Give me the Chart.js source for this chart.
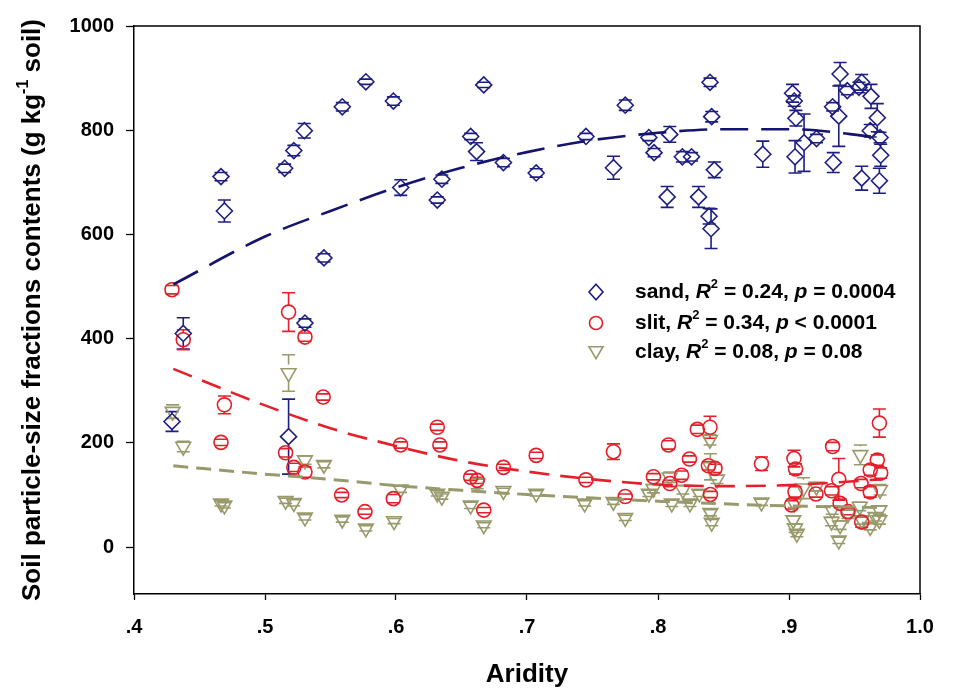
<!DOCTYPE html>
<html>
<head>
<meta charset="utf-8">
<script src="https://cdn.jsdelivr.net/npm/chart.js@4.4.1/dist/chart.umd.min.js"></script>
<style>
  html, body { margin: 0; padding: 0; background: #fff; }
  #wrap { width: 963px; height: 695px; }
</style>
</head>
<body>
<div id="wrap"><canvas id="grafico" width="963" height="695"></canvas></div>
<script>
/* ================= DADOS ================= */
const sandX = [0.429, 0.4376, 0.4664, 0.469, 0.515, 0.518, 0.522, 0.5305, 0.530, 0.545, 0.559, 0.577, 0.598, 0.6036, 0.6315, 0.635, 0.657, 0.6615, 0.667, 0.682, 0.707, 0.745, 0.766, 0.775, 0.793, 0.797, 0.809, 0.807, 0.8186, 0.8256, 0.831, 0.8397, 0.841, 0.843, 0.839, 0.8405, 0.880, 0.9027, 0.904, 0.9053, 0.9046, 0.9115, 0.921, 0.9333, 0.9338, 0.938, 0.939, 0.9445, 0.9534, 0.9555, 0.9626, 0.9555, 0.962, 0.9674, 0.9695, 0.970, 0.969];
const sandY = [241, 410, 711, 645, 727, 212, 761, 430, 799, 555, 845, 893, 856, 690, 666, 706, 788, 759, 887, 738, 718, 788, 728, 848, 786, 757, 792, 672, 749, 749, 672, 892, 826, 724, 635, 611, 754, 871, 856, 823, 749, 776, 784, 845, 738, 827, 908, 876, 882, 892, 865, 708, 799, 824, 786, 752, 703];
const sandErr = [19, 30, 8, 21, 8, 72, 10, 8, 14, 8, 8, 5, 8, 15, 6, 8, 6, 17, 5, 8, 8, 6, 22, 10, 6, 8, 15, 20, 10, 8, 20, 8, 10, 15, 15, 38, 25, 17, 10, 15, 31, 55, 8, 8, 19, 58, 22, 8, 10, 15, 23, 23, 12, 27, 10, 21, 24];

const slitX = [0.429, 0.4376, 0.4664, 0.469, 0.5157, 0.518, 0.522, 0.5305, 0.5305, 0.5444, 0.5585, 0.5763, 0.598, 0.6035, 0.6315, 0.6335, 0.657, 0.662, 0.667, 0.682, 0.707, 0.745, 0.766, 0.775, 0.7965, 0.808, 0.809, 0.818, 0.824, 0.83, 0.8397, 0.8385, 0.8435, 0.840, 0.879, 0.9038, 0.905, 0.9046, 0.902, 0.9206, 0.9333, 0.938, 0.9325, 0.939, 0.945, 0.9555, 0.955, 0.962, 0.9674, 0.970, 0.969, 0.962];
const slitY = [494, 398, 201, 273, 181, 451, 153, 403, 144, 288, 100, 68, 93, 196, 230, 196, 134, 128, 71, 153, 176, 129, 183, 97, 135, 196, 122, 138, 169, 226, 230, 156, 151, 101, 160, 170, 150, 106, 81, 102, 193, 130, 108, 84, 68, 48, 122, 148, 167, 142, 238, 106];
const slitErr = [8, 19, 6, 17, 8, 37, 8, 8, 10, 6, 5, 5, 8, 6, 6, 6, 6, 6, 5, 6, 6, 5, 15, 5, 6, 8, 6, 8, 6, 8, 21, 8, 8, 6, 13, 16, 10, 10, 8, 6, 8, 40, 8, 8, 6, 10, 8, 10, 10, 10, 27, 10];

const clayX = [0.4295, 0.4376, 0.4664, 0.469, 0.518, 0.5157, 0.522, 0.5305, 0.5305, 0.545, 0.559, 0.577, 0.5985, 0.6035, 0.6315, 0.635, 0.657, 0.662, 0.667, 0.682, 0.707, 0.744, 0.766, 0.775, 0.793, 0.7965, 0.809, 0.8105, 0.819, 0.8244, 0.8315, 0.8397, 0.840, 0.840, 0.841, 0.845, 0.879, 0.904, 0.9033, 0.9046, 0.906, 0.911, 0.921, 0.933, 0.9325, 0.939, 0.938, 0.945, 0.954, 0.9545, 0.9555, 0.962, 0.966, 0.9695, 0.969, 0.969];
const clayY = [260, 193, 84, 80, 334, 89, 85, 167, 57, 158, 53, 36, 50, 111, 103, 97, 80, 122, 42, 108, 103, 84, 87, 56, 103, 112, 134, 84, 110, 84, 103, 206, 154, 66, 47, 130, 86, 84, 52, 36, 26, 113, 116, 71, 49, 42, 13, 63, 78, 177, 52, 39, 58, 110, 71, 52];
const clayErr = [13, 10, 5, 5, 35, 5, 6, 8, 5, 6, 5, 5, 5, 6, 5, 5, 6, 10, 5, 5, 5, 5, 5, 5, 6, 8, 10, 6, 8, 6, 6, 10, 25, 6, 6, 8, 6, 8, 8, 8, 6, 20, 8, 8, 8, 8, 6, 8, 8, 19, 8, 6, 8, 10, 8, 8];

// curvas ajustadas
const fitX = [0.43, 0.5, 0.55, 0.6, 0.65, 0.7, 0.75, 0.8, 0.85, 0.9, 0.97];
const sandFit = [504, 596, 645, 690, 728, 758, 781, 795, 802, 802, 786];
const slitFit = [342, 272, 228, 194, 165, 145, 130, 120, 117, 119, 130];
const clayFit = [156, 140, 130, 118, 109, 101, 94, 88, 83, 79, 76];

const xTicks = [0.4, 0.5, 0.6, 0.7, 0.8, 0.9, 1.0];
const xTickLabels = [".4", ".5", ".6", ".7", ".8", ".9", "1.0"];
const yTicks = [0, 200, 400, 600, 800, 1000];

const legendNames = ["sand", "slit", "clay"];
const legendR2 = ["0.24", "0.34", "0.08"];
const legendP = ["= 0.0004", "< 0.0001", "= 0.08"];

/* ================= ESTILO ================= */
const FONT = '"Liberation Sans", Arial, sans-serif';
const corSand = "#1e1e82";
const corSandFit = "#14146e";
const corSlit = "#e3202b";
const corClay = "#999a6c";

function pts(xs, ys) {
  return xs.map((x, i) => ({ x, y: ys[i] }));
}

function desenhaMarcador(ctx, tipo, x, y, r) {
  ctx.beginPath();
  if (tipo === "diamond") {
    ctx.moveTo(x, y - r * 1.1);
    ctx.lineTo(x + r, y);
    ctx.lineTo(x, y + r * 1.1);
    ctx.lineTo(x - r, y);
    ctx.closePath();
  } else if (tipo === "circle") {
    ctx.arc(x, y, r, 0, Math.PI * 2);
  } else {
    ctx.moveTo(x - r, y - r * 0.75);
    ctx.lineTo(x + r, y - r * 0.75);
    ctx.lineTo(x, y + r * 0.95);
    ctx.closePath();
  }
  ctx.stroke();
}

/* ================= PLUGINS ================= */
const errorBars = {
  id: "errorBars",
  beforeDatasetsDraw(chart) {
    const { ctx, scales: { x: xs, y: ys } } = chart;
    ctx.save();
    ctx.lineWidth = 1.6;
    chart.data.datasets.forEach(ds => {
      if (!ds.errors) return;
      ctx.strokeStyle = ds.borderColor;
      const r = ds.markerR;
      ds.data.forEach((p, j) => {
        const e = ds.errors[j];
        const px = xs.getPixelForValue(p.x);
        const py = ys.getPixelForValue(p.y);
        const t = ys.getPixelForValue(p.y + e);
        const b = ys.getPixelForValue(p.y - e);
        ctx.beginPath();
        if (py - t > r) { ctx.moveTo(px, t); ctx.lineTo(px, py - r); }
        if (b - py > r) { ctx.moveTo(px, py + r); ctx.lineTo(px, b); }
        ctx.moveTo(px - 6.5, t); ctx.lineTo(px + 6.5, t);
        ctx.moveTo(px - 6.5, b); ctx.lineTo(px + 6.5, b);
        ctx.stroke();
      });
    });
    ctx.restore();
  }
};

const extras = {
  id: "extras",
  afterDraw(chart) {
    const { ctx, chartArea: a } = chart;
    ctx.save();

    // moldura superior e direita
    ctx.strokeStyle = "#000";
    ctx.lineWidth = 1.5;
    ctx.beginPath();
    ctx.moveTo(a.left, a.top);
    ctx.lineTo(a.right, a.top);
    ctx.lineTo(a.right, a.bottom);
    ctx.stroke();

    ctx.fillStyle = "#000";
    ctx.textBaseline = "middle";

    // título eixo x
    ctx.font = `bold 26px ${FONT}`;
    ctx.textAlign = "center";
    ctx.fillText("Aridity", (a.left + a.right) / 2, 675);

    // título eixo y (com sobrescrito)
    ctx.save();
    ctx.translate(33, (a.top + a.bottom) / 2);
    ctx.rotate(-Math.PI / 2);
    ctx.textAlign = "left";
    const partes = [
      { t: "Soil particle-size fractions contents (g kg", f: `bold 26px ${FONT}`, dy: 0 },
      { t: "-1", f: `bold 16px ${FONT}`, dy: -9 },
      { t: " soil)", f: `bold 26px ${FONT}`, dy: 0 }
    ];
    let total = 0;
    partes.forEach(p => { ctx.font = p.f; total += ctx.measureText(p.t).width; });
    let cx = -total / 2;
    partes.forEach(p => {
      ctx.font = p.f;
      ctx.fillText(p.t, cx, p.dy);
      cx += ctx.measureText(p.t).width;
    });
    ctx.restore();

    // legenda
    const estilos = [
      { tipo: "diamond", cor: corSand, r: 7 },
      { tipo: "circle", cor: corSlit, r: 6.5 },
      { tipo: "triangle", cor: corClay, r: 7 }
    ];
    const linhas = [292, 323, 352];
    legendNames.forEach((nome, i) => {
      const y = linhas[i];
      ctx.strokeStyle = estilos[i].cor;
      ctx.lineWidth = 1.6;
      desenhaMarcador(ctx, estilos[i].tipo, 596, y, estilos[i].r);

      const seg = [
        { t: nome + ", ", f: `bold 21px ${FONT}`, dy: 0 },
        { t: "R", f: `italic bold 21px ${FONT}`, dy: 0 },
        { t: "2", f: `bold 13px ${FONT}`, dy: -8 },
        { t: " = " + legendR2[i] + ", ", f: `bold 21px ${FONT}`, dy: 0 },
        { t: "p", f: `italic bold 21px ${FONT}`, dy: 0 },
        { t: " " + legendP[i], f: `bold 21px ${FONT}`, dy: 0 }
      ];
      let x = 635;
      ctx.textAlign = "left";
      seg.forEach(s => {
        ctx.font = s.f;
        ctx.fillText(s.t, x, y + s.dy);
        x += ctx.measureText(s.t).width;
      });
    });

    ctx.restore();
  }
};

/* ================= GRÁFICO ================= */
Chart.defaults.font.family = FONT;
Chart.defaults.color = "#000";

const serie = (label, xs, ys, errs, cor, estilo, r, rot) => ({
  type: "scatter",
  label,
  data: pts(xs, ys),
  errors: errs,
  markerR: r,
  borderColor: cor,
  backgroundColor: "rgba(0,0,0,0)",
  pointStyle: estilo,
  pointRadius: r,
  pointRotation: rot,
  pointBorderWidth: 1.6,
  pointHoverRadius: r,
  order: 2
});

const ajuste = (label, ys, cor, dash, w) => ({
  type: "line",
  label,
  data: pts(fitX, ys),
  borderColor: cor,
  borderWidth: w,
  borderDash: dash,
  pointRadius: 0,
  fill: false,
  cubicInterpolationMode: "monotone",
  order: 1
});

new Chart(document.getElementById("grafico"), {
  data: {
    datasets: [
      serie("sand", sandX, sandY, sandErr, corSand, "rectRot", 8, 0),
      serie("slit", slitX, slitY, slitErr, corSlit, "circle", 7, 0),
      serie("clay", clayX, clayY, clayErr, corClay, "triangle", 8.5, 180),
      ajuste("sand fit", sandFit, corSandFit, [28, 13], 2.6),
      ajuste("slit fit", slitFit, corSlit, [20, 11], 2.6),
      ajuste("clay fit", clayFit, corClay, [15, 8], 3)
    ]
  },
  options: {
    responsive: false,
    animation: false,
    layout: { padding: { top: 26, right: 43, left: 0, bottom: 0 } },
    plugins: { legend: { display: false }, tooltip: { enabled: false } },
    scales: {
      x: {
        type: "linear",
        min: 0.4,
        max: 1.0,
        afterFit: s => { s.height = 101; },
        afterBuildTicks: s => { s.ticks = xTicks.map(v => ({ value: v })); },
        ticks: {
          padding: 15,
          font: { size: 20, weight: "bold" },
          callback: v => xTickLabels[xTicks.findIndex(t => Math.abs(t - v) < 1e-6)]
        },
        grid: { drawOnChartArea: false, tickLength: 6, tickColor: "#000", tickWidth: 1.3 },
        border: { display: true, color: "#000", width: 1.5 }
      },
      y: {
        type: "linear",
        min: -90,
        max: 1000,
        afterFit: s => { s.width = 134; },
        afterBuildTicks: s => { s.ticks = yTicks.map(v => ({ value: v })); },
        ticks: {
          padding: 12,
          font: { size: 20, weight: "bold" },
          callback: v => String(v)
        },
        grid: { drawOnChartArea: false, tickLength: 8, tickColor: "#000", tickWidth: 1.3 },
        border: { display: true, color: "#000", width: 1.5 }
      }
    }
  },
  plugins: [errorBars, extras]
});
</script>
</body>
</html>
